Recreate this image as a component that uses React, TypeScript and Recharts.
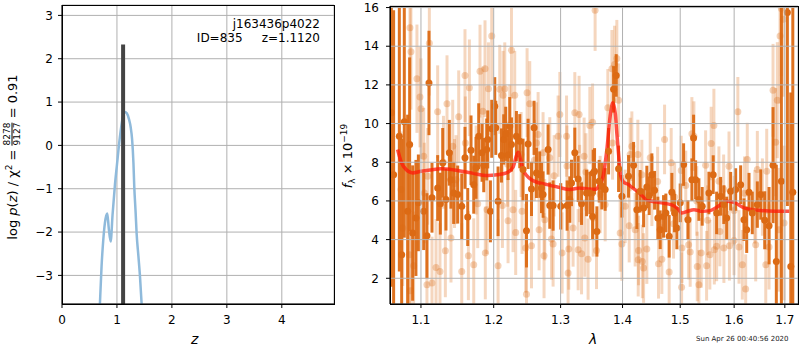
import React from 'react';
import {
  ComposedChart, Line, Scatter, ErrorBar, XAxis, YAxis, CartesianGrid, ReferenceLine
} from 'recharts';

const FONT = '"DejaVu Sans", sans-serif';
const GRID = '#b0b0b0';

// ---- left panel: redshift probability ----
const pzZ = [0.66, 0.69, 0.72, 0.75, 0.78, 0.805, 0.824, 0.85, 0.886, 0.92, 0.964, 1.0, 1.036, 1.08, 1.11, 1.145, 1.18, 1.22, 1.25, 1.275, 1.3, 1.315, 1.34, 1.358, 1.39, 1.418, 1.449, 1.48];
const pzLog = [-4.6, -3.66, -2.79, -2.2, -1.8, -1.62, -1.57, -1.9, -2.22, -1.6, -0.9, -0.45, 0.0, 0.45, 0.68, 0.77, 0.74, 0.6, 0.42, 0.15, -0.4, -0.95, -1.55, -2.03, -2.55, -3.0, -3.66, -4.4];
const zTicks = [0, 1, 2, 3, 4];
const pzTicks = [-3, -2, -1, 0, 1, 2, 3];
const zBest = 1.112;
const zBestTop = 2.33;
const pzMin = -3.66;
const pzMax = 3.24;

// ---- right panel: spectrum ----
// dark points (main grism)
const darkLam = [1.0617, 1.0646, 1.0719, 1.0749, 1.0783, 1.0826, 1.0852, 1.0891, 1.0934, 1.0966, 1.1036, 1.1079, 1.1106, 1.1146, 1.1222, 1.1258, 1.129, 1.1334, 1.138, 1.1402, 1.1439, 1.1494, 1.155, 1.1595, 1.1633, 1.1679, 1.1717, 1.1749, 1.1787, 1.1834, 1.1858, 1.19, 1.1915, 1.1953, 1.1972, 1.2015, 1.203, 1.2063, 1.2112, 1.2145, 1.2174, 1.2208, 1.2233, 1.2258, 1.2331, 1.238, 1.2429, 1.248, 1.2504, 1.2555, 1.2594, 1.263, 1.268, 1.2706, 1.273, 1.2807, 1.2833, 1.2884, 1.3003, 1.3102, 1.3144, 1.3171, 1.3223, 1.3276, 1.333, 1.341, 1.3463, 1.3507, 1.3517, 1.3539, 1.3577, 1.3614, 1.3658, 1.3712, 1.3768, 1.3851, 1.3894, 1.3934, 1.3989, 1.4101, 1.4186, 1.4242, 1.4298, 1.4357, 1.4413, 1.4453, 1.45, 1.4547, 1.4604, 1.4645, 1.4704, 1.4745, 1.4803, 1.4851, 1.4899, 1.494, 1.5, 1.5061, 1.5139, 1.5211, 1.5242, 1.5279, 1.5339, 1.54, 1.5524, 1.5604, 1.5668, 1.5743, 1.5805, 1.5857, 1.5933, 1.6029, 1.6125, 1.6189, 1.6242, 1.6287, 1.6351, 1.645, 1.6517, 1.6596, 1.6682, 1.6762, 1.6828, 1.693, 1.7052, 1.7122, 1.7163];
const darkFlux = [10.56, 7.36, 9.35, 3.22, 10.1, 5.46, 8.92, 4.34, 5.12, 5.9, 5.46, 4.2, 12.1, 6.16, 6.67, 5.86, 7.97, 6.07, 8.49, 7.1, 6.41, 6.33, 5.72, 8.23, 5.17, 8.62, 6.84, 7.71, 9.35, 8.49, 7.85, 8.66, 9.18, 5.46, 9.73, 10.9, 9.78, 5.98, 8.35, 9.18, 9.47, 8.38, 9.87, 8.92, 9.35, 9.09, 7.62, 4.46, 8.95, 6.62, 9.78, 7.45, 7.36, 6.67, 6.33, 8.66, 5.76, 5.76, 5.72, 5.76, 6.07, 6.93, 8.49, 7.14, 5.86, 6.41, 6.41, 5.2, 7.45, 7.53, 4.42, 7.02, 6.76, 6.59, 8.57, 11.77, 12.49, 7.66, 6.24, 7.27, 7.85, 5.55, 6.5, 5.64, 6.72, 6.27, 7.36, 6.55, 5.12, 4.51, 5.2, 5.38, 4.17, 6.45, 5.38, 4.6, 5.9, 7.88, 5.03, 7.1, 9.26, 7.1, 6.07, 5.72, 6.41, 7.36, 5.38, 6.24, 5.81, 5.12, 6.5, 6.59, 6.84, 5.03, 4.51, 6.45, 5.38, 5.81, 6.33, 5.0, 4.72, 7.85, 2.87, 7.02, 15.74, 2.61, 6.45];
const darkErr = [9, 8.5, 7, 6, 6, 5, 4.5, 3.5, 3, 2.5, 2, 2.2, 2.7, 1.8, 1.7, 1.6, 1.8, 1.6, 1.7, 1.5, 1.6, 1.5, 1.7, 1.6, 1.5, 1.8, 1.5, 1.6, 1.7, 1.5, 1.4, 1.6, 1.5, 1.6, 1.5, 1.5, 1.4, 1.8, 1.4, 1.3, 1.4, 1.3, 1.5, 1.4, 1.3, 1.4, 1.6, 1.9, 1.3, 1.4, 1.4, 1.3, 1.2, 1.3, 1.2, 1.3, 1.2, 1.3, 1.2, 1.3, 1.2, 1.2, 1.3, 1.2, 1.1, 1.2, 1.1, 1.2, 1.2, 1.2, 1.3, 1.1, 1.2, 1.1, 1.2, 1.2, 1.1, 1.2, 1.1, 1.1, 1.2, 1.0, 1.1, 1.0, 1.1, 1.0, 1.1, 1.0, 1.1, 1.0, 1.1, 1.0, 1.1, 1.0, 1.0, 1.1, 1.0, 1.1, 1.0, 1.1, 1.2, 1.0, 1.1, 1.0, 1.1, 1.0, 1.1, 1.0, 1.0, 1.1, 1.0, 1.1, 1.0, 1.1, 1.2, 1.0, 1.1, 1.2, 1.3, 1.5, 2, 3, 5, 9, 10, 9, 10];

// faint points (second grism)
const lightLam = [1.074, 1.0762, 1.0848, 1.0856, 1.0861, 1.0869, 1.0904, 1.0947, 1.0987, 1.1, 1.1036, 1.1045, 1.1079, 1.1089, 1.1111, 1.1146, 1.12, 1.1222, 1.1253, 1.13, 1.1326, 1.1348, 1.1402, 1.1426, 1.145, 1.1471, 1.1508, 1.155, 1.1595, 1.16, 1.1642, 1.1656, 1.1717, 1.175, 1.1773, 1.1805, 1.1844, 1.1876, 1.188, 1.1905, 1.1925, 1.1972, 1.2063, 1.2087, 1.2126, 1.2135, 1.216, 1.2208, 1.22, 1.2233, 1.2258, 1.2281, 1.2306, 1.232, 1.24, 1.2414, 1.2469, 1.248, 1.2489, 1.2529, 1.2555, 1.26, 1.263, 1.2655, 1.267, 1.273, 1.2745, 1.2756, 1.2833, 1.2859, 1.2884, 1.29, 1.2961, 1.2988, 1.3024, 1.3093, 1.31, 1.3117, 1.3128, 1.3196, 1.3223, 1.3276, 1.3291, 1.33, 1.333, 1.3371, 1.3382, 1.34, 1.3435, 1.3463, 1.3507, 1.3517, 1.3548, 1.3571, 1.363, 1.3712, 1.3756, 1.3823, 1.3834, 1.3867, 1.3905, 1.3934, 1.396, 1.3989, 1.4044, 1.4112, 1.4128, 1.4157, 1.4213, 1.4259, 1.4265, 1.4271, 1.4327, 1.4335, 1.4357, 1.4413, 1.4471, 1.45, 1.46, 1.4616, 1.4674, 1.4722, 1.4803, 1.4839, 1.4881, 1.49, 1.5018, 1.5025, 1.5031, 1.51, 1.5152, 1.518, 1.5211, 1.5248, 1.5309, 1.53, 1.5339, 1.5382, 1.5463, 1.5481, 1.55, 1.5542, 1.5566, 1.5617, 1.5625, 1.5668, 1.5711, 1.573, 1.58, 1.5805, 1.5902, 1.591, 1.5997, 1.6, 1.6071, 1.6093, 1.6157, 1.62, 1.6222, 1.6253, 1.64, 1.6418, 1.645, 1.655, 1.6617, 1.6636, 1.6682, 1.6762, 1.6815, 1.6848, 1.6879, 1.6903, 1.693, 1.697, 1.6984];
const lightFlux = [6.59, 4.6, 3.22, 14.96, 1.35, 13.72, 2.65, 12.32, 11.37, 10.77, 8.31, 6.41, 1.66, 7.27, 14.15, 1.75, 2.56, 10.61, 2.35, 8.0, 3.42, 11.03, 4.08, 8.83, 6.9, 7.1, 10.35, 2.35, 12.48, 9.0, 3.17, 11.85, 2.7, 7.6, 5.86, 12.71, 10.64, 12.84, 3.31, 5.55, 11.8, 14.53, 2.65, 11.77, 5.77, 11.46, 11.8, 4.98, 7.9, 9.81, 13.79, 5.55, 11.46, 4.37, 8.4, 5.46, 3.56, 1.18, 11.6, 11.03, 3.68, 8.1, 9.0, 9.43, 4.51, 8.49, 3.17, 5.03, 8.23, 4.03, 3.77, 7.3, 9.35, 10.47, 3.31, 9.35, 7.8, 2.27, 3.51, 4.6, 10.56, 3.48, 10.47, 6.9, 3.27, 8.31, 4.08, 7.5, 2.99, 9.9, 10.07, 5.12, 15.86, 3.44, 6.33, 5.81, 10.82, 12.84, 9.0, 13.06, 13.36, 11.21, 4.34, 3.77, 5.72, 4.72, 8.4, 8.83, 4.51, 8.4, 2.96, 3.44, 7.36, 2.87, 2.53, 3.51, 8.23, 6.5, 7.0, 2.75, 2.99, 9.18, 2.32, 7.97, 4.82, 6.2, 7.57, 1.54, 3.56, 6.8, 3.74, 3.36, 9.47, 9.35, 2.61, 6.0, 1.66, 3.31, 7.85, 2.65, 5.0, 3.22, 8.97, 9.9, 3.48, 3.65, 7.02, 4.42, 6.6, 3.56, 7.79, 3.68, 3.96, 5.5, 10.61, 3.62, 2.7, 6.4, 1.44, 8.14, 5.7, 3.74, 7.62, 6.2, 2.7, 7.53, 3.62, 11.72, 9.04, 11.21, 4.51, 14.53, 15.95, 15.39, 4.86];
const lightErr = [3, 3, 3, 3, 3, 3, 2.8, 2.8, 2.6, 2.6, 2.5, 2.6, 2.5, 2.5, 2.7, 2.4, 2.5, 2.4, 2.5, 2.4, 2.4, 2.5, 2.3, 2.4, 2.3, 2.3, 2.4, 2.5, 2.4, 2.4, 2.3, 2.5, 2.4, 2.3, 2.3, 2.4, 2.3, 2.5, 2.4, 2.3, 2.4, 2.5, 2.4, 2.3, 2.2, 2.3, 2.4, 2.2, 2.2, 2.2, 2.5, 2.2, 2.3, 2.2, 2.2, 2.2, 2.3, 2.4, 2.3, 2.2, 2.2, 2.1, 2.1, 2.2, 2.1, 2.1, 2.2, 2.1, 2.1, 2.1, 2.2, 2.1, 2.1, 2.2, 2.1, 2.1, 2.1, 2.2, 2.1, 2.0, 2.1, 2.1, 2.0, 2.0, 2.1, 2.0, 2.0, 2.0, 2.1, 2.0, 2.0, 2.0, 2.1, 2.0, 2.0, 1.9, 2.0, 2.0, 1.9, 2.0, 2.0, 1.9, 2.0, 1.9, 1.9, 1.9, 1.9, 1.8, 1.9, 1.8, 1.9, 1.8, 1.8, 1.9, 1.8, 1.8, 1.8, 1.8, 1.8, 1.8, 1.8, 1.8, 1.8, 1.8, 1.8, 1.8, 1.8, 1.8, 1.8, 1.8, 1.8, 1.8, 1.9, 1.8, 1.8, 1.8, 1.8, 1.8, 1.8, 1.8, 1.8, 1.8, 1.9, 1.9, 1.8, 1.8, 1.8, 1.8, 1.8, 1.8, 1.8, 1.8, 1.8, 1.8, 1.8, 1.9, 1.8, 1.9, 1.8, 1.9, 1.9, 1.9, 2.0, 2.0, 2.0, 2.2, 2.2, 2.4, 2.8, 3, 3.2, 3.5, 3.5, 4, 4, 4];

// smooth model
const modelLam = [1.0697, 1.074, 1.0806, 1.089, 1.1, 1.113, 1.1265, 1.1447, 1.168, 1.1915, 1.205, 1.2186, 1.2281, 1.2355, 1.2429, 1.2555, 1.2794, 1.2975, 1.3144, 1.33, 1.343, 1.3557, 1.362, 1.368, 1.374, 1.3794, 1.3839, 1.388, 1.3905, 1.394, 1.397, 1.402, 1.41, 1.4157, 1.427, 1.441, 1.4667, 1.485, 1.4955, 1.5024, 1.512, 1.5248, 1.54, 1.555, 1.57, 1.5855, 1.602, 1.619, 1.6517, 1.68, 1.709];
const modelFlux = [8.66, 8.05, 7.62, 7.45, 7.53, 7.6, 7.66, 7.6, 7.45, 7.31, 7.35, 7.45, 7.75, 8.52, 7.62, 7.1, 6.84, 6.7, 6.59, 6.67, 6.62, 6.6, 6.85, 7.3, 8.66, 10.38, 11.08, 10.5, 9.5, 8.2, 7.3, 6.97, 6.85, 6.7, 6.45, 6.07, 5.9, 5.8, 5.6, 5.38, 5.45, 5.55, 5.46, 5.5, 5.72, 5.98, 5.9, 5.64, 5.51, 5.47, 5.47];

const lamTicks = [1.1, 1.2, 1.3, 1.4, 1.5, 1.6, 1.7];
const fluxTicks = [2, 4, 6, 8, 10, 12, 14, 16];
const lamMin = 1.06;
const lamMax = 1.727;
const fluxMin = 0.67;
const fluxMax = 16.08;

const pzData = pzZ.map((z, i) => ({ z, lp: pzLog[i] }));
const darkData = darkLam.map((l, i) => ({ l, f: darkFlux[i], e: darkErr[i] }));
const lightData = lightLam.map((l, i) => ({ l, f: lightFlux[i], e: lightErr[i] }));
const modelData = modelLam.map((l, i) => ({ l, f: modelFlux[i] }));

const ORANGE = '#dc6a14';

const minus = (v: number) => String(v).replace('-', '\u2212');
const tickStyle = { fontSize: 12, fill: '#000', fontFamily: FONT };

const Dot = (color: string, opacity: number) => (props: any) => (
  <circle cx={props.cx} cy={props.cy} r={3.5} fill={color} fillOpacity={opacity} />
);

const frame = (left: number, top: number, width: number, height: number): React.CSSProperties => ({
  position: 'absolute', left, top, width, height, border: '1px solid #000',
  boxSizing: 'border-box', pointerEvents: 'none'
});

// spectrum chart geometry (shared by the clipped data layer and the axes layer)
const SW = 460;
const SH = 350;
const sMargin = { top: 6, right: 2, bottom: 0, left: 0 };
const sYW = 50;
const sXH = 46;

const SpecAxes = ({ showTicks }: { showTicks: boolean }) => (
  <>
    <XAxis dataKey="l" type="number" scale="log" domain={[lamMin, lamMax]} ticks={lamTicks} allowDataOverflow
      height={sXH} tickSize={4} tickMargin={7} stroke="#000" tick={showTicks ? tickStyle : false} tickLine={showTicks}
      axisLine={showTicks} tickFormatter={(v: number) => v.toFixed(1)} />
    <YAxis dataKey="f" type="number" domain={[fluxMin, fluxMax]} ticks={fluxTicks} allowDataOverflow
      width={sYW} tickSize={4} tickMargin={7} stroke="#000" tick={showTicks ? tickStyle : false} tickLine={showTicks}
      axisLine={showTicks} />
  </>
);

export default function App() {
  return (
    <div style={{ position: 'absolute', left: 0, top: 0, width: 800, height: 350, background: '#fff', fontFamily: FONT, overflow: 'hidden' }}>
      {/* p(z) panel */}
      <div style={{ position: 'absolute', left: 0, top: 0 }}>
        <ComposedChart width={340} height={350} data={pzData} margin={{ top: 5, right: 6, bottom: 0, left: 0 }}>
          <CartesianGrid stroke={GRID} strokeWidth={1} />
          <XAxis dataKey="z" type="number" domain={[0, 4.95]} ticks={zTicks} allowDataOverflow
            height={46} tickSize={4} tickMargin={7} stroke="#000" tick={tickStyle} />
          <YAxis dataKey="lp" type="number" domain={[pzMin, pzMax]} ticks={pzTicks} allowDataOverflow
            width={62} tickSize={4} tickMargin={5} stroke="#000" tick={tickStyle} tickFormatter={minus} />
          <Line dataKey="lp" type="monotone" stroke="#8fbadb" strokeWidth={2.5} dot={false} isAnimationActive={false} />
          <ReferenceLine segment={[{ x: zBest, y: pzMin }, { x: zBest, y: zBestTop }]} stroke="#444" strokeWidth={4} ifOverflow="visible" />
        </ComposedChart>
      </div>
      <div style={frame(62, 5, 273, 300)} />
      <div style={{ position: 'absolute', left: 120, width: 200, top: 17, textAlign: 'right', fontSize: 12, lineHeight: '14px', whiteSpace: 'pre' }}>
        {'j163436p4022\nID=835     z=1.1120'}
      </div>
      <div style={{ position: 'absolute', left: 12, top: 157, transform: 'translate(-50%,-50%) rotate(-90deg)', whiteSpace: 'nowrap', fontSize: 13, display: 'flex', alignItems: 'center' }}>
        <span>log <i>p</i>(<i>z</i>) / χ<sup style={{ fontSize: 9 }}>2</sup>&nbsp;=&nbsp;</span>
        <span style={{ display: 'inline-flex', flexDirection: 'column', alignItems: 'center', fontSize: 9, lineHeight: '9px' }}>
          <span>8278</span>
          <span style={{ borderTop: '1px solid #000' }}>9127</span>
        </span>
        <span>&nbsp;= 0.91</span>
      </div>
      <div style={{ position: 'absolute', left: 191, top: 331, fontSize: 14, fontStyle: 'italic' }}>z</div>

      {/* spectrum panel: data layer, clipped to the plot box */}
      <div style={{
        position: 'absolute', left: 340, top: 0, width: SW, height: SH,
        clipPath: `inset(${sMargin.top}px ${sMargin.right}px ${sXH}px ${sYW}px)`
      }}>
        <ComposedChart width={SW} height={SH} margin={sMargin}>
          {SpecAxes({ showTicks: false })}
          <Scatter data={lightData} shape={Dot(ORANGE, 0.3)} isAnimationActive={false}>
            <ErrorBar dataKey="e" direction="y" width={0} stroke={ORANGE} strokeOpacity={0.28} strokeWidth={3} isAnimationActive={false} />
          </Scatter>
          <Scatter data={darkData} shape={Dot(ORANGE, 1)} isAnimationActive={false}>
            <ErrorBar dataKey="e" direction="y" width={0} stroke={ORANGE} strokeOpacity={0.95} strokeWidth={3} isAnimationActive={false} />
          </Scatter>
          <Line data={modelData} dataKey="f" type="monotone" stroke="#ff1a0a" strokeOpacity={0.75} strokeWidth={3.5} dot={false} isAnimationActive={false} />
        </ComposedChart>
      </div>
      {/* spectrum panel: grid and axes on top */}
      <div style={{ position: 'absolute', left: 340, top: 0, width: SW, height: SH }}>
        <ComposedChart width={SW} height={SH} margin={sMargin}>
          <CartesianGrid stroke={GRID} strokeWidth={1} />
          {SpecAxes({ showTicks: true })}
          <Line data={modelData} dataKey="f" stroke="none" dot={false} isAnimationActive={false} />
        </ComposedChart>
      </div>
      <div style={frame(390, 6, 409, 299)} />
      <div style={{ position: 'absolute', left: 348, top: 156, transform: 'translate(-50%,-50%) rotate(-90deg)', whiteSpace: 'nowrap', fontSize: 13 }}>
        <i>f</i><sub style={{ fontSize: 9 }}>λ</sub> × 10<sup style={{ fontSize: 9 }}>−19</sup>
      </div>
      <div style={{ position: 'absolute', left: 589, top: 331, fontSize: 14, fontStyle: 'italic' }}>λ</div>
      <div style={{ position: 'absolute', left: 696, top: 335, fontSize: 7, color: '#222' }}>Sun Apr 26 00:40:56 2020</div>
    </div>
  );
}
